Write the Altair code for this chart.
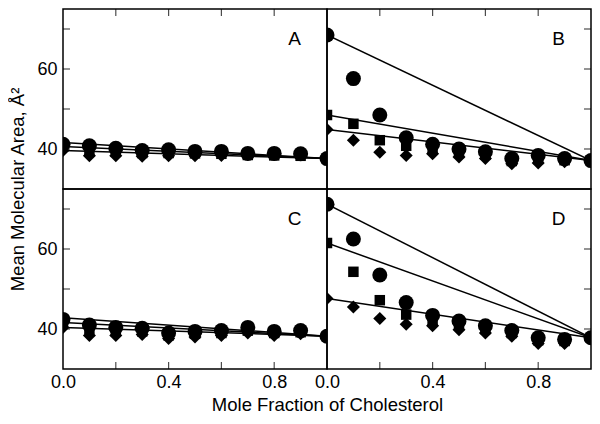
import altair as alt
import pandas as pd

# ---------------- data ----------------
x_frac = [0.0, 0.1, 0.2, 0.3, 0.4, 0.5, 0.6, 0.7, 0.8, 0.9, 1.0]

circle_A = [41.2, 40.8, 40.2, 39.6, 39.8, 39.4, 39.4, 38.9, 38.9, 38.8, 37.6]
square_A = [40.6, 39.8, 39.3, 39.0, 39.0, 38.9, 38.8, 38.5, 38.4, 38.3, 37.6]
diamond_A = [39.6, 38.3, 38.3, 38.2, 38.3, 38.3, 38.4, 38.6, 38.6, 38.6, 37.6]
line_start_A = [41.6, 40.6, 39.6]
line_end_A = 37.6

circle_B = [68.5, 57.6, 48.5, 42.8, 41.2, 40.0, 39.3, 37.6, 38.4, 37.6, 37.1]
square_B = [48.5, 46.3, 42.2, 40.8, 40.0, 39.0, 38.6, 37.0, 37.5, 37.2, 37.1]
diamond_B = [44.9, 42.2, 39.2, 38.4, 38.8, 38.0, 37.6, 36.3, 36.5, 36.8, 37.1]
line_start_B = [68.5, 48.5, 44.9]
line_end_B = 37.1

circle_C = [42.4, 41.0, 40.4, 40.2, 39.0, 39.4, 39.6, 40.4, 39.4, 39.6, 38.2]
square_C = [41.6, 40.0, 39.6, 39.4, 38.4, 38.8, 39.0, 39.6, 39.0, 39.2, 38.2]
diamond_C = [40.4, 38.4, 38.4, 38.6, 37.6, 38.0, 38.4, 39.0, 38.4, 38.8, 38.2]
line_start_C = [42.8, 41.6, 40.4]
line_end_C = 38.2

circle_D = [71.2, 62.5, 53.5, 46.6, 43.4, 42.0, 40.8, 39.6, 37.8, 37.4, 37.8]
square_D = [61.5, 54.3, 47.2, 43.6, 42.0, 41.0, 40.0, 39.0, 37.2, 37.0, 37.8]
diamond_D = [47.6, 45.5, 42.6, 41.2, 40.8, 39.8, 39.0, 38.2, 36.4, 36.4, 37.8]
line_start_D = [71.2, 61.5, 47.6]
line_end_D = 37.8

y_label_values = [40, 60]
y_tick_values = [40, 50, 60, 70]
x_label_values = [0.0, 0.4, 0.8]
x_tick_values = [0.2, 0.4, 0.6, 0.8]

y_title = "Mean Molecular Area, Å²"
x_title = "Mole Fraction of Cholesterol"

# ---------------- layout / style ----------------
W, H = 264, 180
FONT = "Liberation Sans"

xs = alt.Scale(domain=[0, 1], nice=False, zero=False)
ys = alt.Scale(domain=[30, 75], nice=False, zero=False)


def make_panel(name, circles, squares, diamonds, starts, end, left, bottom):
    if bottom:
        xa = dict(values=x_label_values, format=".1f", ticks=False, domain=False,
                  grid=False, labelFlush=False, labelPadding=4, labelFontSize=18,
                  title=(x_title if left else ""), titleFontSize=18.5, titlePadding=4)
        if left:
            xa["titleX"] = W
            xa["titleAlign"] = "center"
        X = alt.X("x:Q", scale=xs, axis=alt.Axis(**xa))
    else:
        X = alt.X("x:Q", scale=xs, axis=None)
    if left:
        ya = dict(values=y_label_values, ticks=False, domain=False, grid=False,
                  labelPadding=6, labelFontSize=18,
                  title=(y_title if not bottom else ""), titleFontSize=18.5,
                  titlePadding=9)
        if not bottom:
            ya["titleY"] = H
            ya["titleAlign"] = "center"
        Y = alt.Y("y:Q", scale=ys, axis=alt.Axis(**ya))
    else:
        Y = alt.Y("y:Q", scale=ys, axis=None)

    line_rows = []
    for i, s in enumerate(starts):
        line_rows.append({"x": 0.0, "y": s, "series": i})
        line_rows.append({"x": 1.0, "y": end, "series": i})
    lines = alt.Chart(pd.DataFrame(line_rows)).mark_line(
        color="black", strokeWidth=1.5, clip=True
    ).encode(x=X, y=Y, detail="series:N")

    def pts(vals, shape, size):
        df = pd.DataFrame({"x": x_frac, "y": vals})
        return alt.Chart(df).mark_point(
            shape=shape, filled=True, size=size, color="black", opacity=1, clip=True
        ).encode(x=X, y=Y)

    layers = [lines, pts(diamonds, "diamond", 170), pts(squares, "square", 110),
              pts(circles, "circle", 225)]

    xt = pd.DataFrame({"x": x_tick_values})
    yt = pd.DataFrame({"y": y_tick_values})
    tick_kw = dict(size=7, thickness=1.2, color="black")
    if bottom:
        layers.append(alt.Chart(xt).mark_tick(orient="vertical", **tick_kw)
                      .encode(x=X, y=alt.value(H - 3.5)))
    else:
        layers.append(alt.Chart(xt).mark_tick(orient="vertical", **tick_kw)
                      .encode(x=X, y=alt.value(3.5)))
    if left:
        layers.append(alt.Chart(yt).mark_tick(orient="horizontal", **tick_kw)
                      .encode(y=Y, x=alt.value(3.5)))
    else:
        layers.append(alt.Chart(yt).mark_tick(orient="horizontal", **tick_kw)
                      .encode(y=Y, x=alt.value(W - 3.5)))

    label = alt.Chart(pd.DataFrame({"label": [name]})).mark_text(
        fontSize=19, font=FONT, color="black", align="center", baseline="middle"
    ).encode(text="label:N", x=alt.value(W * 0.877), y=alt.value(H * 0.167))
    layers.append(label)

    return alt.layer(*layers).properties(width=W, height=H)


pA = make_panel("A", circle_A, square_A, diamond_A, line_start_A, line_end_A, True, False)
pB = make_panel("B", circle_B, square_B, diamond_B, line_start_B, line_end_B, False, False)
pC = make_panel("C", circle_C, square_C, diamond_C, line_start_C, line_end_C, True, True)
pD = make_panel("D", circle_D, square_D, diamond_D, line_start_D, line_end_D, False, True)

chart = alt.concat(pA, pB, pC, pD, columns=2, spacing=0, bounds="flush").properties(
    padding=0
).configure_view(
    stroke="black", strokeWidth=1.5
).configure_axis(
    labelFont=FONT, titleFont=FONT, labelColor="black", titleColor="black",
    titleFontWeight="normal", grid=False
)

chart.save("out.html", embed_options={"renderer": "svg", "actions": False})
